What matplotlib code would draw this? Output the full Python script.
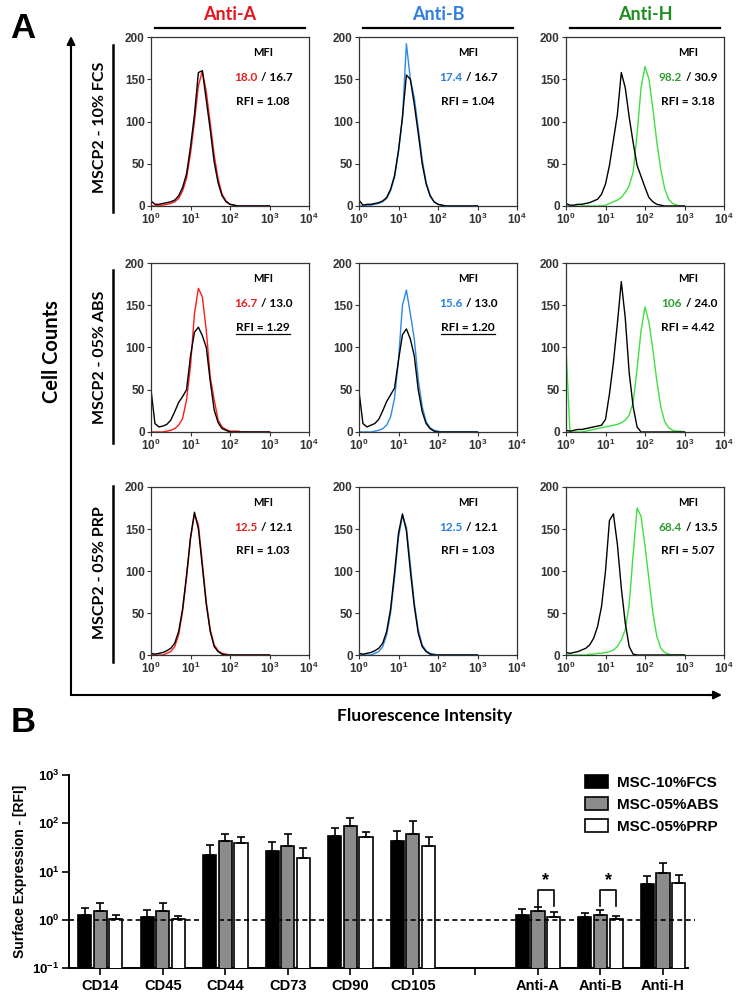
import numpy as np
import matplotlib
matplotlib.use('Agg')
import matplotlib.pyplot as plt
from matplotlib.ticker import FixedLocator, FuncFormatter, NullLocator
from matplotlib.patches import Patch
from matplotlib.lines import Line2D

W, H = 737, 993

plt.rcParams['font.family'] = ['Liberation Sans', 'DejaVu Sans']
plt.rcParams['font.weight'] = 'bold'
plt.rcParams['mathtext.fontset'] = 'custom'
plt.rcParams['mathtext.bf'] = 'Liberation Sans:bold'
plt.rcParams['mathtext.rm'] = 'Liberation Sans:bold'
plt.rcParams['mathtext.default'] = 'bf'
CAL = ['Lato', 'DejaVu Sans']   # stand-in for the Calibri-like labels

# == Panel A: flow cytometry histograms =============================
# counts per bin, bins are log10 of fluorescence (0.0, 0.1, ... 3.0)
log_bins = [round(0.1 * i, 1) for i in range(31)]

# rows: 10% FCS, 05% ABS, 05% PRP ; columns: Anti-A, Anti-B, Anti-H
fcs_a_iso = [6, 2, 2, 3, 4, 5, 7, 12, 22, 38, 70, 108, 158, 160, 125, 90, 52, 27, 12, 5, 2, 1]
fcs_a_stain = [0, 0, 1, 1, 2, 3, 5, 9, 18, 33, 62, 100, 142, 160, 135, 98, 60, 32, 14, 6, 2, 1]
fcs_b_iso = [7, 1, 2, 2, 3, 4, 6, 10, 20, 36, 66, 105, 155, 150, 120, 86, 50, 26, 12, 5, 2, 1]
fcs_b_stain = [0, 0, 1, 1, 2, 3, 5, 9, 18, 34, 64, 104, 192, 150, 128, 92, 55, 28, 13, 5, 2, 1]
fcs_h_iso = [3, 1, 1, 2, 2, 3, 4, 6, 8, 14, 26, 48, 78, 108, 158, 140, 105, 75, 48, 35, 22, 10, 5, 2, 1]
fcs_h_stain = [0, 0, 0, 0, 0, 0, 0, 0, 0, 0, 1, 3, 5, 7, 10, 16, 24, 40, 85, 140, 165, 150, 115, 75,
               43, 20, 8, 3, 1]

abs_a_iso = [50, 10, 6, 7, 9, 14, 24, 35, 42, 50, 90, 118, 124, 114, 100, 60, 26, 11, 4, 2]
abs_a_stain = [0, 0, 0, 0, 1, 2, 4, 8, 16, 38, 78, 140, 170, 160, 120, 65, 38, 14, 6, 3, 1, 1, 1]
abs_b_iso = [48, 10, 6, 8, 10, 15, 25, 36, 44, 52, 85, 115, 122, 110, 90, 50, 24, 10, 4, 1]
abs_b_stain = [0, 0, 0, 0, 1, 2, 4, 8, 18, 40, 85, 150, 168, 140, 110, 62, 30, 12, 5, 2, 1]
abs_h_iso = [2, 1, 2, 3, 3, 4, 5, 6, 7, 8, 15, 45, 82, 128, 178, 135, 70, 30, 6]
abs_h_stain = [100, 0, 0, 0, 0, 1, 2, 3, 4, 5, 6, 7, 8, 9, 11, 14, 20, 35, 75, 120, 148, 130, 97,
               60, 30, 12, 5, 2, 1, 1]

prp_a_iso = [2, 1, 2, 3, 5, 8, 14, 28, 55, 95, 140, 170, 150, 105, 60, 28, 10, 4, 1]
prp_a_stain = [0, 0, 0, 0, 2, 4, 10, 24, 52, 92, 138, 168, 155, 110, 63, 30, 12, 5, 2, 1]
prp_b_iso = [2, 1, 2, 3, 5, 8, 14, 28, 55, 98, 145, 168, 148, 100, 58, 26, 10, 4, 1]
prp_b_stain = [0, 0, 0, 0, 2, 4, 10, 24, 50, 92, 140, 166, 152, 108, 62, 30, 12, 5, 2, 1]
prp_h_iso = [3, 2, 3, 4, 6, 8, 12, 20, 34, 58, 100, 160, 168, 132, 80, 38, 10, 1]
prp_h_stain = [0, 0, 0, 0, 0, 0, 1, 1, 2, 2, 3, 4, 6, 10, 18, 30, 60, 120, 175, 165, 130, 90, 50,
               22, 8, 3, 1]

row_labels = ['MSCP2 - 10% FCS', 'MSCP2 - 05% ABS', 'MSCP2 - 05% PRP']
antibodies = ['Anti-A', 'Anti-B', 'Anti-H']
mfi_stain = [['18.0', '17.4', '98.2'], ['16.7', '15.6', '106'], ['12.5', '12.5', '68.4']]
mfi_iso = [['16.7', '16.7', '30.9'], ['13.0', '13.0', '24.0'], ['12.1', '12.1', '13.5']]
rfi = [['1.08', '1.04', '3.18'], ['1.29', '1.20', '4.42'], ['1.03', '1.03', '5.07']]
rfi_underlined = [[False, False, False], [True, True, False], [False, False, False]]

stained = [[fcs_a_stain, fcs_b_stain, fcs_h_stain],
           [abs_a_stain, abs_b_stain, abs_h_stain],
           [prp_a_stain, prp_b_stain, prp_h_stain]]
isotype = [[fcs_a_iso, fcs_b_iso, fcs_h_iso],
           [abs_a_iso, abs_b_iso, abs_h_iso],
           [prp_a_iso, prp_b_iso, prp_h_iso]]

# == Panel B: surface expression (RFI) ===============================
markers = ['CD14', 'CD45', 'CD44', 'CD73', 'CD90', 'CD105', '', 'Anti-A', 'Anti-B', 'Anti-H']
groups = ['MSC-10%FCS', 'MSC-05%ABS', 'MSC-05%PRP']
fcs_mean = [1.27, 1.12, 22.2, 26.0, 53.3, 42.0, 1.27, 1.12, 5.5]
fcs_sd = [0.48, 0.44, 12.5, 15.4, 26.1, 28.0, 0.39, 0.25, 2.7]
abs_mean = [1.53, 1.53, 43.4, 33.0, 86.0, 60.5, 1.49, 1.27, 9.3]
abs_sd = [0.67, 0.67, 16.3, 27.5, 42.0, 53.5, 0.34, 0.29, 5.7]
prp_mean = [1.03, 1.03, 38.9, 19.5, 50.8, 34.2, 1.12, 1.03, 5.9]
prp_sd = [0.24, 0.14, 12.9, 11.1, 13.7, 16.6, 0.30, 0.14, 2.7]
significant = ['Anti-A', 'Anti-B']   # ABS vs PRP

# ===================================================================
fig = plt.figure(figsize=(W / 100, H / 100), dpi=100)


def px_axes(x0, y0, x1, y1):
    return fig.add_axes([x0 / W, 1 - y1 / H, (x1 - x0) / W, (y1 - y0) / H])


def padded(vals):
    return np.array(vals + [0] * (len(log_bins) - len(vals)), dtype=float)


def decade_fmt(v, p):
    return r'$\mathbf{10^{%d}}$' % round(np.log10(v))


# overlay in pixel coordinates for letters, arrows and brackets
bg = fig.add_axes([0, 0, 1, 1])
bg.set_xlim(0, W)
bg.set_ylim(H, 0)
bg.axis('off')

bg.text(23, 28, 'A', fontsize=25, fontweight='bold', ha='center', va='center')
bg.text(23, 722, 'B', fontsize=25, fontweight='bold', ha='center', va='center')

# axes arrows
bg.plot([71, 71, 712], [44, 695, 695], color='black', lw=1.5, solid_joinstyle='miter')
bg.annotate('', xy=(71, 36), xytext=(71, 50),
            arrowprops=dict(arrowstyle='-|>', color='black', lw=1.5, mutation_scale=12,
                            shrinkA=0, shrinkB=0))
bg.annotate('', xy=(722, 695), xytext=(708, 695),
            arrowprops=dict(arrowstyle='-|>', color='black', lw=1.5, mutation_scale=12,
                            shrinkA=0, shrinkB=0))
bg.text(52, 352, 'Cell Counts', family=CAL, fontsize=14.5, fontweight='bold',
        rotation=90, ha='center', va='center')
bg.text(425, 716, 'Fluorescence Intensity', family=CAL, fontsize=12.5, fontweight='bold',
        ha='center', va='center')

col_x = [151, 359, 566]
col_w = 158
row_y = [(37, 206), (263, 432), (487, 655)]
row_line = [(45, 212), (270, 443), (486, 662)]
row_text_y = [127, 357, 573]
header_colors = ['#e8141e', '#2f7fe0', '#1e8c1e']
curve_colors = ['#ff1a1a', '#2a8ae6', '#3ee03e']
number_colors = ['#e02020', '#2a7de1', '#2e9a2e']
text_x = [0.71, 0.69, 0.77]

for c, name in enumerate(antibodies):
    bg.text(col_x[c] + 79, 14, name, family=CAL, fontsize=13, fontweight='bold',
            color=header_colors[c], ha='center', va='center')
    bg.plot([col_x[c] + 4, col_x[c] + 154], [28, 28], color='black', lw=1.6)

underline_texts = []
x_vals = 10 ** np.array(log_bins)
for r, label in enumerate(row_labels):
    bg.text(100, row_text_y[r], label, family=CAL, fontsize=11.5, fontweight='bold',
            rotation=90, ha='center', va='center')
    bg.plot([113, 113], row_line[r], color='black', lw=1.8)
    for c in range(3):
        ax = px_axes(col_x[c], row_y[r][0], col_x[c] + col_w, row_y[r][1])
        ax.plot(x_vals, padded(stained[r][c]), color=curve_colors[c], lw=1.0)
        ax.plot(x_vals, padded(isotype[r][c]), color='black', lw=1.0)
        ax.set_xscale('log')
        ax.set_xlim(1, 1e4)
        ax.set_ylim(0, 200)
        ax.xaxis.set_major_locator(FixedLocator([1, 10, 100, 1000, 10000]))
        ax.xaxis.set_minor_locator(NullLocator())
        ax.xaxis.set_major_formatter(FuncFormatter(decade_fmt))
        ax.set_yticks([0, 50, 100, 150, 200])
        ax.tick_params(labelsize=8.5, length=3, width=0.8, pad=1.5, colors='#333333')
        for s in ax.spines.values():
            s.set_linewidth(0.9)
            s.set_color('#333333')

        xs = text_x[c]
        ax.text(xs, 0.91, 'MFI', family=CAL, fontsize=8, fontweight='bold',
                transform=ax.transAxes, ha='center', va='center')
        ax.text(xs - 0.035, 0.76, mfi_stain[r][c], family=CAL, fontsize=8.5, fontweight='bold',
                color=number_colors[c], transform=ax.transAxes, ha='right', va='center')
        ax.text(xs - 0.012, 0.76, '/ ' + mfi_iso[r][c], family=CAL, fontsize=8.5, fontweight='bold',
                transform=ax.transAxes, ha='left', va='center')
        t = ax.text(xs, 0.62, 'RFI = ' + rfi[r][c], family=CAL, fontsize=8.5, fontweight='bold',
                    transform=ax.transAxes, ha='center', va='center')
        if rfi_underlined[r][c]:
            underline_texts.append(t)

# == Panel B ========================================================
ax_b = px_axes(69, 775, 688, 968)
ax_b.set_yscale('log')
ax_b.set_ylim(0.1, 1000)
ax_b.set_xlim(-0.5, 9.4)

pos = np.array([i for i, m in enumerate(markers) if m])
offsets = [-0.25, 0.0, 0.25]
means = [fcs_mean, abs_mean, prp_mean]
sds = [fcs_sd, abs_sd, prp_sd]
fills = ['black', '#8c8c8c', 'white']
for k in range(3):
    ax_b.bar(pos + offsets[k], means[k], width=0.21, color=fills[k], edgecolor='black', lw=1.2,
             yerr=[np.zeros(len(pos)), sds[k]], capsize=3,
             error_kw=dict(ecolor='black', elinewidth=1.2, capthick=1.2), zorder=3)

ax_b.axhline(1, xmin=0, xmax=1.012, color='black', lw=1.2, ls=(0, (3, 2)), clip_on=False, zorder=4)

for m in significant:
    i = markers.index(m)
    k_abs = groups.index('MSC-05%ABS')
    k_prp = groups.index('MSC-05%PRP')
    x0, x1 = i + offsets[k_abs], i + offsets[k_prp]
    ax_b.plot([x0, x0, x1, x1], [1.9, 4.2, 4.2, 1.9], color='black', lw=1.2, zorder=4)
    ax_b.text((x0 + x1) / 2, 4.4, '*', fontsize=13, fontweight='bold', ha='center', va='bottom')

ax_b.set_xticks(range(len(markers)))
ax_b.set_xticklabels(markers, fontsize=10.5, fontweight='bold')
ax_b.set_yticks([0.1, 1, 10, 100, 1000])
ax_b.yaxis.set_major_formatter(FuncFormatter(decade_fmt))
ax_b.yaxis.set_minor_locator(NullLocator())
ax_b.tick_params(axis='y', labelsize=9.5, length=5, width=1.2, pad=2)
ax_b.tick_params(axis='x', length=5, width=1.2, pad=3)
ax_b.spines['top'].set_visible(False)
ax_b.spines['right'].set_visible(False)
for s in ['left', 'bottom']:
    ax_b.spines[s].set_linewidth(1.4)
ax_b.set_ylabel('Surface Expression - [RFI]', fontsize=10, fontweight='bold', labelpad=4)

handles = [Patch(facecolor=fills[k], edgecolor='black', lw=1.2) for k in range(3)]
fig.legend(handles, groups, loc='upper left', bbox_to_anchor=(577 / W, 1 - 767 / H),
           frameon=False, borderpad=0, handlelength=1.5, handleheight=1.0,
           handletextpad=0.6, labelspacing=0.45, prop=dict(size=11, weight='bold'))

# underline the RFI values that are flagged
fig.canvas.draw()
renderer = fig.canvas.get_renderer()
inv = fig.transFigure.inverted()
for t in underline_texts:
    bb = t.get_window_extent(renderer)
    (fx0, fy0), (fx1, fy1) = inv.transform([(bb.x0, bb.y0), (bb.x1, bb.y0)])
    fig.add_artist(Line2D([fx0, fx1], [fy0 - 0.001, fy0 - 0.001], color='black', lw=0.9))

fig.savefig('out.png', dpi=100)
